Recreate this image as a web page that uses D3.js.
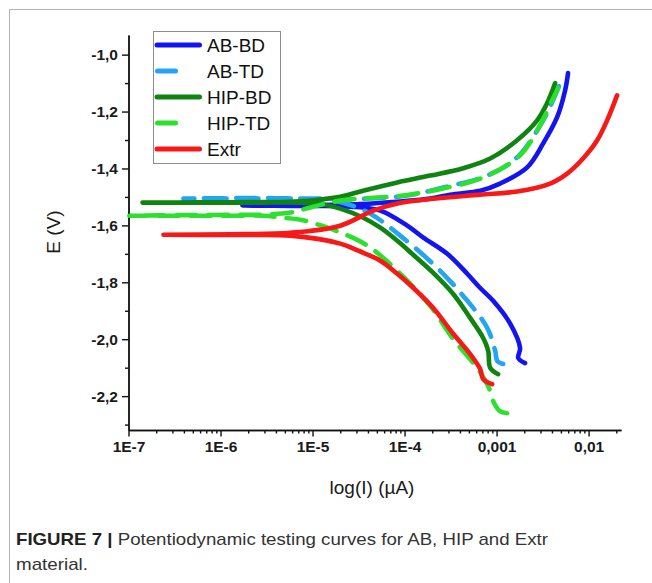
<!DOCTYPE html>
<html>
<head>
<meta charset="utf-8">
<script src="https://cdnjs.cloudflare.com/ajax/libs/d3/7.8.5/d3.min.js"></script>
<style>
  body { margin: 0; background: #fff; }
  svg { display: block; font-family: Arial, "Liberation Sans", sans-serif; }
</style>
</head>
<body>
<svg id="chart" width="652" height="583"></svg>
<script>
// current in µA, potential in V
const abBD_I = [2.04e-3, 1.72e-3, 1.80e-3, 1.41e-3, 9.18e-4, 6.64e-4, 4.80e-4, 2.91e-4, 1.60e-4, 1.07e-4, 5.45e-5, 2.57e-5, 7.38e-6, 1.73e-6,
  7.38e-6, 3.30e-5, 8.97e-5, 1.90e-4, 3.13e-4, 6.64e-4, 1.09e-3, 2.15e-3, 3.21e-3, 4.55e-3, 5.56e-3, 5.98e-3];
const abBD_E = [-2.084, -2.066, -2.031, -1.946, -1.865, -1.820, -1.770, -1.700, -1.643, -1.601, -1.548, -1.534, -1.532, -1.530,
  -1.529, -1.525, -1.516, -1.506, -1.492, -1.478, -1.453, -1.396, -1.312, -1.220, -1.125, -1.065];

const abTD_I = [1.18e-3, 1.02e-3, 9.66e-4, 7.91e-4, 4.34e-4, 2.26e-4, 8.97e-5, 4.25e-5, 2.27e-5, 1.22e-5, 2.11e-6, 3.95e-7,
  2.11e-6, 1.22e-5, 3.30e-5, 1.07e-4, 2.63e-4, 7.91e-4, 1.67e-3, 3.21e-3, 4.33e-3, 5.28e-3];
const abTD_E = [-2.087, -2.077, -2.041, -1.960, -1.848, -1.749, -1.636, -1.559, -1.523, -1.509, -1.506, -1.506,
  -1.504, -1.506, -1.507, -1.495, -1.467, -1.425, -1.361, -1.231, -1.143, -1.072];

const hipBD_I = [1.04e-3, 8.53e-4, 8.11e-4, 7.14e-4, 5.16e-4, 3.38e-4, 2.05e-4, 1.24e-4, 8.34e-5, 5.45e-5, 3.56e-5, 2.0e-5, 1.22e-5, 7.38e-6, 2.71e-6, 6.05e-7, 1.42e-7,
  6.05e-7, 2.71e-6, 7.38e-6, 2.0e-5, 3.56e-5, 8.34e-5, 1.90e-4, 4.34e-4, 8.53e-4, 1.67e-3, 2.76e-3, 3.54e-3, 4.33e-3];
const hipBD_E = [-2.123, -2.101, -2.041, -1.995, -1.925, -1.841, -1.767, -1.703, -1.654, -1.608, -1.573, -1.541, -1.525, -1.520, -1.520, -1.520, -1.520,
  -1.519, -1.518, -1.515, -1.499, -1.478, -1.449, -1.425, -1.399, -1.365, -1.301, -1.231, -1.171, -1.100];

const hipTD_I = [1.30e-3, 1.09e-3, 9.42e-4, 8.11e-4, 6.15e-4, 3.38e-4, 1.90e-4, 8.34e-5, 3.94e-5, 1.77e-5, 1.07e-5, 7.38e-6, 4.82e-6, 2.92e-6, 1.45e-6, 3.67e-7, 1.02e-7,
  3.67e-7, 1.45e-6, 2.92e-6, 5.74e-6, 9.46e-6, 2.0e-5, 9.68e-5, 2.63e-4, 7.14e-4, 1.80e-3, 2.97e-3, 4.02e-3, 4.67e-3];
const hipTD_E = [-2.260, -2.253, -2.225, -2.165, -2.101, -1.999, -1.883, -1.760, -1.671, -1.618, -1.594, -1.580, -1.573, -1.566, -1.566, -1.566, -1.566,
  -1.564, -1.563, -1.562, -1.555, -1.537, -1.513, -1.495, -1.470, -1.432, -1.354, -1.248, -1.160, -1.118];

const extr_I = [8.95e-4, 7.14e-4, 6.64e-4, 5.16e-4, 3.38e-4, 2.05e-4, 1.24e-4, 8.34e-5, 5.45e-5, 3.14e-5, 2.0e-5, 5.74e-6, 1.28e-6, 2.40e-7,
  1.28e-6, 5.74e-6, 2.0e-5, 4.57e-5, 8.34e-5, 1.90e-4, 6.64e-4, 1.67e-3, 3.82e-3, 5.85e-3, 8.71e-3, 1.24e-2, 1.59e-2, 2.04e-2];
const extr_E = [-2.158, -2.140, -2.105, -2.052, -1.981, -1.890, -1.819, -1.770, -1.724, -1.689, -1.664, -1.636, -1.634, -1.633,
  -1.631, -1.626, -1.601, -1.548, -1.523, -1.507, -1.492, -1.481, -1.453, -1.418, -1.365, -1.301, -1.231, -1.143];

const seriesNames = ["AB-BD", "AB-TD", "HIP-BD", "HIP-TD", "Extr"];
const seriesColors = ["#1414f0", "#26a4f4", "#108410", "#2de02d", "#f71818"];
const seriesDashed = [false, true, false, true, false];

const xTicks = [1e-7, 1e-6, 1e-5, 1e-4, 1e-3, 1e-2];
const xTickLabels = ["1E-7", "1E-6", "1E-5", "1E-4", "0,001", "0,01"];
const yTicks = [-1.0, -1.2, -1.4, -1.6, -1.8, -2.0, -2.2];
const yMinorTicks = [-1.1, -1.3, -1.5, -1.7, -1.9, -2.1, -2.3];

const series = [
  { I: abBD_I, E: abBD_E },
  { I: abTD_I, E: abTD_E },
  { I: hipBD_I, E: hipBD_E },
  { I: hipTD_I, E: hipTD_E },
  { I: extr_I, E: extr_E }
].map((s, i) => ({
  name: seriesNames[i],
  color: seriesColors[i],
  dashed: seriesDashed[i],
  points: s.I.map((v, j) => ({ I: v, E: s.E[j] }))
}));

const svg = d3.select("#chart");

// figure frame
svg.append("line").attr("x1", 9.5).attr("x2", 652).attr("y1", 9.5).attr("y2", 9.5)
  .attr("stroke", "#b4b4b4").attr("stroke-width", 1);
svg.append("line").attr("x1", 9.5).attr("x2", 9.5).attr("y1", 9.5).attr("y2", 583)
  .attr("stroke", "#b4b4b4").attr("stroke-width", 1);

const x = d3.scaleLog().domain([1e-7, 0.0225]).range([128.5, 621]);
const y = d3.scaleLinear().domain([-2.319, -0.931]).range([430, 35]);

// comma decimals and a plain hyphen for the minus sign
const commaFmt = d => d3.format(".1f")(d).replace(".", ",").replace("\u2212", "-");

// minor log ticks (2..9 of every decade)
const xMinor = x.ticks().filter(t => !xTicks.some(m => Math.abs(Math.log10(t / m)) < 1e-6));

svg.append("g").attr("transform", "translate(0,430)")
  .call(d3.axisBottom(x).tickValues(xMinor).tickFormat("").tickSize(3.5).tickSizeOuter(0));
svg.append("g").attr("transform", "translate(0,430)")
  .call(d3.axisBottom(x).tickValues(xTicks).tickFormat((d, i) => xTickLabels[i]).tickSize(6.5).tickPadding(4).tickSizeOuter(0));

svg.append("g").attr("transform", "translate(128.5,0)")
  .call(d3.axisLeft(y).tickValues(yMinorTicks).tickFormat("").tickSize(3.5).tickSizeOuter(0));
svg.append("g").attr("transform", "translate(128.5,0)")
  .call(d3.axisLeft(y).tickValues(yTicks).tickFormat(commaFmt).tickSize(6.5).tickPadding(4).tickSizeOuter(0));

svg.selectAll(".domain").attr("stroke", "#111").attr("stroke-width", 1.4);
svg.selectAll(".tick line").attr("stroke", "#111").attr("stroke-width", 1.4);
svg.selectAll(".tick text").attr("font-size", 15.5).attr("font-weight", "bold").attr("fill", "#1a1a1a");

// axis titles
svg.append("text").attr("x", 372).attr("y", 494).attr("text-anchor", "middle")
  .attr("font-size", 19).attr("fill", "#1a1a1a").text("log(I) (µA)");
svg.append("text").attr("transform", "translate(60,232) rotate(-90)").attr("text-anchor", "middle")
  .attr("font-size", 19).attr("fill", "#1a1a1a").text("E (V)");

// curves
const line = d3.line()
  .x(d => x(d.I))
  .y(d => y(d.E))
  .curve(d3.curveCatmullRom.alpha(0.5));

svg.append("g").selectAll("path")
  .data(series)
  .join("path")
  .attr("d", d => line(d.points))
  .attr("fill", "none")
  .attr("stroke", d => d.color)
  .attr("stroke-width", 4.6)
  .attr("stroke-linecap", "round")
  .attr("stroke-linejoin", "round")
  .attr("stroke-dasharray", d => d.dashed ? "20,12" : null);

// legend
const legend = svg.append("g");
legend.append("rect").attr("x", 153.5).attr("y", 31.5).attr("width", 127).attr("height", 132)
  .attr("fill", "#fff").attr("stroke", "#8c8c8c").attr("stroke-width", 1);

const items = legend.selectAll("g.item")
  .data(series)
  .join("g")
  .attr("class", "item")
  .attr("transform", (d, i) => `translate(0,${45 + i * 26})`);

items.append("line")
  .attr("x1", d => d.dashed ? 157.5 : 157).attr("x2", 199.5)
  .attr("y1", 0).attr("y2", 0)
  .attr("stroke", d => d.color)
  .attr("stroke-width", 5)
  .attr("stroke-linecap", "round")
  .attr("stroke-dasharray", d => d.dashed ? "18,24,0.1,60" : null);

items.append("text")
  .attr("x", 207).attr("y", 0).attr("dy", "0.36em")
  .attr("font-size", 19).attr("fill", "#111")
  .text(d => d.name);

// caption
const cap = svg.append("text").attr("x", 16).attr("y", 545).attr("font-size", 17).attr("fill", "#333");
cap.append("tspan").attr("font-weight", "bold").attr("fill", "#222").text("FIGURE 7 |");
cap.append("tspan").text(" Potentiodynamic testing curves for AB, HIP and Extr");
cap.attr("textLength", 532).attr("lengthAdjust", "spacingAndGlyphs");
svg.append("text").attr("x", 16).attr("y", 570).attr("font-size", 17).attr("fill", "#333")
  .attr("textLength", 72).attr("lengthAdjust", "spacingAndGlyphs")
  .text("material.");
</script>
</body>
</html>
